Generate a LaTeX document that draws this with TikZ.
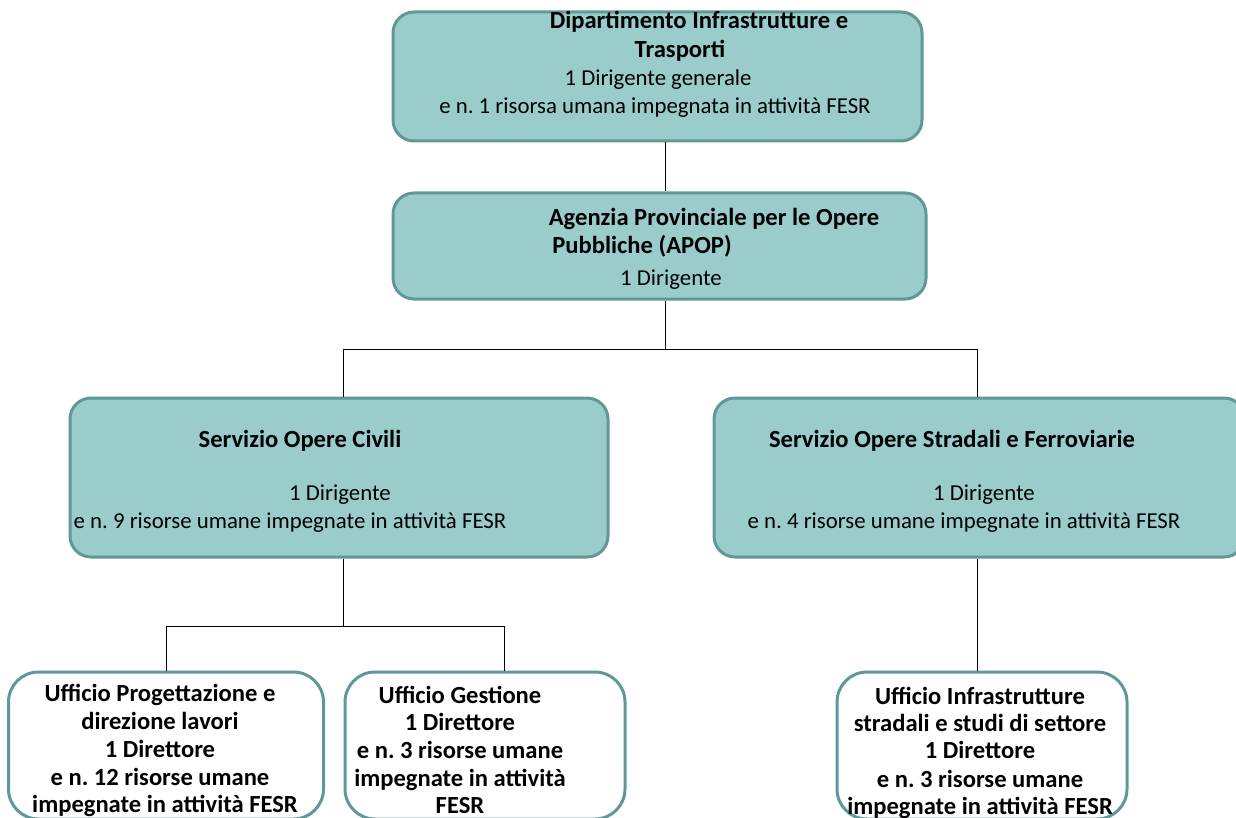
\documentclass[tikz,border=0pt]{standalone}
\usepackage{fontspec}
\setmainfont{Carlito}
\begin{document}
\frenchspacing
\begin{tikzpicture}[x=1pt,y=-1pt,
  tbox/.style={draw=boxedge,fill=boxfill,line width=3pt,rounded corners=21pt,inner sep=0pt},
  wbox/.style={draw=boxedge,fill=white,line width=3pt,rounded corners=30pt,inner sep=0pt},
  rl/.style={anchor=base,inner sep=0pt,font=\fontsize{22.8}{27}\selectfont},
  bl/.style={rl,font=\fontsize{24.6}{28}\selectfont\bfseries},
  conn/.style={draw=black,line width=0.9pt}]
\definecolor{boxfill}{RGB}{154,204,204}
\definecolor{boxedge}{RGB}{96,152,152}
\useasboundingbox (0,0) rectangle (1236,818);
\clip (0,0) rectangle (1236,818);
% boxes
\node[tbox,minimum width=529pt,minimum height=129pt] (dip) at (657.5,76.5) {};
\node[tbox,minimum width=533pt,minimum height=106pt] (apop) at (659.5,246) {};
\node[tbox,minimum width=538pt,minimum height=159pt] (civ) at (339,477.5) {};
\node[tbox,minimum width=531pt,minimum height=159pt] (str) at (979.5,477.5) {};
\node[wbox,minimum width=315pt,minimum height=147pt] (uprog) at (166,745.5) {};
\node[wbox,minimum width=280pt,minimum height=147pt] (ugest) at (485,745.5) {};
\node[wbox,minimum width=290pt,minimum height=147pt] (uinfr) at (982,745.5) {};
% junctions
\coordinate (j1) at (665,349);
\coordinate (jL) at (343,349);
\coordinate (jR) at (977,349);
\coordinate (k1) at (343,626);
\coordinate (kL) at (166,626);
\coordinate (kR) at (504,626);
% connectors
\draw[conn] (dip.south -| j1) -- (apop.north -| j1);
\draw[conn] (apop.south -| j1) -- (j1);
\draw[conn] (civ.north -| jL) -- (jL) -- (jR) -- (str.north -| jR);
\draw[conn] (civ.south -| k1) -- (k1);
\draw[conn] (uprog.north -| kL) -- (kL) -- (kR) -- (ugest.north -| kR);
\draw[conn] (str.south -| jR) -- (uinfr.north -| jR);
% texts: top
\node[bl] (dipa) at (699,29) {Dipartimento Infrastrutture e};
\node[bl] (dipb) at (680,58) {Trasporti};
\node[rl] (dipc) at (658,86) {1 Dirigente generale};
\node[rl] (dipd) at (655,114) {e n. 1 risorsa umana impegnata in attività FESR};
% apop
\node[bl] (apopa) at (714,226) {Agenzia Provinciale per le Opere};
\node[bl] (apopb) at (642,254) {Pubbliche (APOP)};
\node[rl] (apopc) at (671,285) {1 Dirigente};
% civili
\node[bl] (civa) at (300,447) {Servizio Opere Civili};
\node[rl] (civb) at (340,500) {1 Dirigente};
\node[rl] (civc) at (290,528) {e n. 9 risorse umane impegnate in attività FESR};
% stradali
\node[bl] (stra) at (952,447) {Servizio Opere Stradali e Ferroviarie};
\node[rl] (strb) at (984,500) {1 Dirigente};
\node[rl] (strc) at (964,528) {e n. 4 risorse umane impegnate in attività FESR};
% ufficio progettazione
\node[bl] (upa) at (160,701) {Ufficio Progettazione e};
\node[bl] (upb) at (160,729) {direzione lavori};
\node[bl] (upc) at (160,757) {1 Direttore};
\node[bl] (upd) at (160,785) {e n. 12 risorse umane};
\node[bl] (upe) at (165,812) {impegnate in attività FESR};
% ufficio gestione
\node[bl] (uga) at (460,703) {Ufficio Gestione};
\node[bl] (ugb) at (460,730) {1 Direttore};
\node[bl] (ugc) at (460,758) {e n. 3 risorse umane};
\node[bl] (ugd) at (460,786) {impegnate in attività};
\node[bl] (uge) at (460,813) {FESR};
% ufficio infrastrutture
\node[bl] (uia) at (980,704) {Ufficio Infrastrutture};
\node[bl] (uib) at (980,731) {stradali e studi di settore};
\node[bl] (uic) at (980,758) {1 Direttore};
\node[bl] (uid) at (980,787) {e n. 3 risorse umane};
\node[bl] (uie) at (980,814) {impegnate in attività FESR};
\end{tikzpicture}
\end{document}
